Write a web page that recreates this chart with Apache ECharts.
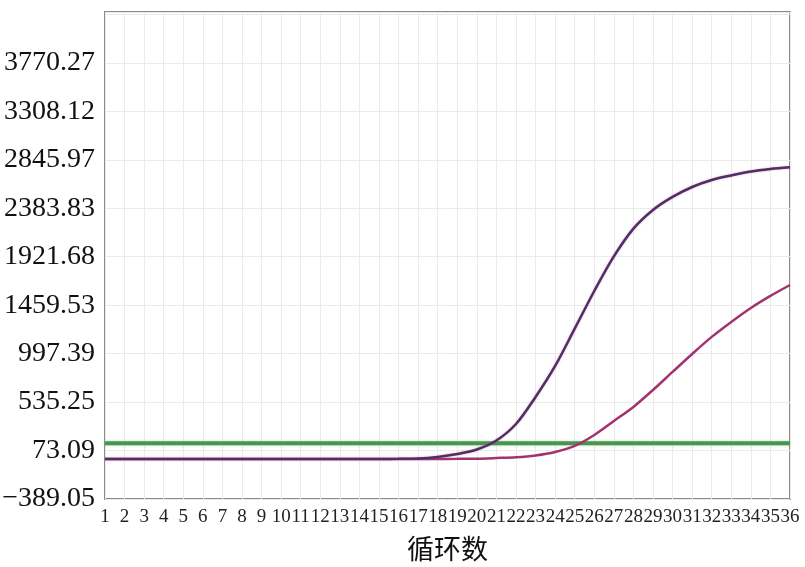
<!DOCTYPE html>
<html>
<head>
<meta charset="utf-8">
<script src="https://cdn.jsdelivr.net/npm/echarts@6/dist/echarts.min.js"></script>
<style>html,body{margin:0;padding:0;background:#fff;}#c{width:805px;height:567px;}</style>
</head>
<body>
<div id="c"></div>
<script>
// Data
var cycles = [];
for (var i = 1; i <= 36; i++) cycles.push(String(i));
var yTickLabels = ['\u2212389.05','73.09','535.25','997.39','1459.53','1921.68','2383.83','2845.97','3308.12','3770.27'];
var yMin = -389.05;
var yInterval = 462.146;
var yMax = 4256;
var sampleA = [-8,-8,-8,-8,-8,-8,-8,-8,-8,-8,-8,-8,-8,-8,-7,-6,-3,12,40,83,169,326,584,880,1236,1595,1925,2190,2368,2492,2587,2654,2697,2735,2759,2775];
var sampleB = [-8,-8,-8,-8,-8,-8,-8,-8,-8,-8,-8,-8,-8,-8,-8,-8,-8,-7,-6,-4,2,9,26,59,117,222,355,489,651,823,994,1157,1300,1433,1548,1652];
var thresholdValue = 142;
var threshold = cycles.map(function(){ return thresholdValue; });

var chart = echarts.init(document.getElementById('c'));
chart.setOption({
  animation: false,
  grid: { left: 105, right: 15, top: 12, bottom: 68, show: true, borderColor: '#8a8a8a', borderWidth: 2, outerBoundsMode: 'none', containLabel: false },
  xAxis: {
    type: 'category',
    data: cycles,
    boundaryGap: false,
    name: '循环数',
    nameLocation: 'middle',
    nameGap: 36,
    nameTextStyle: { fontFamily: 'Noto Sans CJK SC', fontSize: 27, color: '#111' },
    axisLine: { show: false },
    axisTick: { show: false },
    axisLabel: { interval: 0, margin: 9, fontFamily: 'Liberation Serif', fontSize: 19, color: '#222' },
    splitLine: { show: true, interval: 0, lineStyle: { color: '#ebebeb', width: 1 } }
  },
  yAxis: {
    type: 'value',
    min: yMin,
    max: yMax,
    interval: yInterval,
    axisLine: { show: false },
    axisTick: { show: false },
    axisLabel: {
      margin: 10,
      fontFamily: 'Liberation Serif', fontSize: 28, color: '#111',
      showMaxLabel: false,
      formatter: function (v) {
        var k = Math.round((v - yMin) / yInterval);
        if (Math.abs(v - (yMin + k * yInterval)) > 1) return '';
        return yTickLabels[k] !== undefined ? yTickLabels[k] : '';
      }
    },
    splitLine: { show: true, lineStyle: { color: '#ebebeb', width: 1 } }
  },
  series: [
    {
      type: 'line', data: threshold, symbol: 'none',
      lineStyle: { color: '#4a944f', width: 4, shadowColor: 'rgba(120,200,120,0.6)', shadowBlur: 3 },
      z: 1
    },
    {
      type: 'line', data: sampleB, symbol: 'none', smooth: 0.3,
      lineStyle: { color: '#a3336f', width: 2.5 },
      z: 2
    },
    {
      type: 'line', data: sampleA, symbol: 'none', smooth: 0.3,
      lineStyle: { color: '#512f64', width: 2.5, shadowColor: 'rgba(190,80,160,0.5)', shadowBlur: 2 },
      z: 3
    }
  ]
});
</script>
</body>
</html>
